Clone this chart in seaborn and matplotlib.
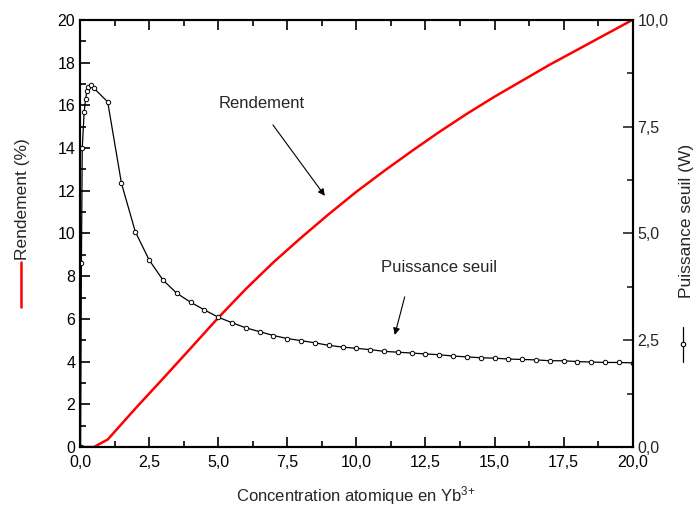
import numpy as np
import pandas as pd
import matplotlib
matplotlib.use("Agg")
import matplotlib.pyplot as plt
from matplotlib.ticker import MultipleLocator, FuncFormatter
from matplotlib.lines import Line2D
import seaborn as sns

# Rendement (%) vs concentration
conc_r = [0.0, 0.5, 1.0, 2.0, 3.0, 4.0, 5.0, 6.0, 7.0, 8.0, 9.0, 10.0,
          11.0, 12.0, 13.0, 14.0, 15.0, 16.0, 17.0, 18.0, 19.0, 20.0]
rendement = [0.0, 0.0, 0.35, 1.8, 3.2, 4.62, 6.05, 7.4, 8.65, 9.8, 10.9, 11.95,
             12.92, 13.85, 14.75, 15.6, 16.4, 17.15, 17.9, 18.6, 19.3, 20.0]

# Puissance seuil (W) vs concentration
conc_p = [0.02, 0.05, 0.08, 0.15, 0.2, 0.25, 0.3, 0.4, 0.5, 1.0, 1.5, 2.0,
          2.5, 3.0, 3.5, 4.0, 4.5, 5.0, 5.5, 6.0, 6.5, 7.0, 7.5, 8.0,
          8.5, 9.0, 9.5, 10.0, 10.5, 11.0, 11.5, 12.0, 12.5, 13.0, 13.5, 14.0,
          14.5, 15.0, 15.5, 16.0, 16.5, 17.0, 17.5, 18.0, 18.5, 19.0, 19.5, 20.0]
puissance = [0.0, 4.3, 7.0, 7.85, 8.15, 8.33, 8.43, 8.48, 8.4, 8.08, 6.17, 5.04,
             4.38, 3.91, 3.6, 3.39, 3.21, 3.04, 2.91, 2.79, 2.7, 2.61, 2.54, 2.49,
             2.44, 2.38, 2.34, 2.31, 2.28, 2.24, 2.22, 2.2, 2.18, 2.16, 2.13, 2.11,
             2.09, 2.08, 2.06, 2.05, 2.04, 2.02, 2.02, 2.0, 1.99, 1.98, 1.98, 1.97]

sns.set_style("ticks")
plt.rcParams['font.family'] = ['Liberation Sans', 'DejaVu Sans']
plt.rcParams['mathtext.fontset'] = 'custom'
plt.rcParams['mathtext.rm'] = 'Liberation Sans'
plt.rcParams['mathtext.it'] = 'Liberation Sans'

fig = plt.figure(figsize=(6.96, 5.08), dpi=100)
ax = fig.add_axes([0.115, 0.12, 0.794, 0.841])
ax2 = ax.twinx()

sns.lineplot(x=conc_r, y=rendement, ax=ax, color='red', linewidth=1.8)
sns.lineplot(x=conc_p, y=puissance, ax=ax2, color='black', linewidth=0.9,
             marker='o', markersize=3.2, markerfacecolor='white',
             markeredgecolor='black', markeredgewidth=0.7)

comma = FuncFormatter(lambda v, p: f"{v:.1f}".replace('.', ','))
ax.set_xlim(0, 20)
ax.set_ylim(0, 20)
ax2.set_ylim(0, 10)
ax.xaxis.set_major_locator(MultipleLocator(2.5))
ax.xaxis.set_minor_locator(MultipleLocator(1.25))
ax.xaxis.set_major_formatter(comma)
ax.yaxis.set_major_locator(MultipleLocator(2))
ax.yaxis.set_minor_locator(MultipleLocator(1))
ax2.yaxis.set_major_locator(MultipleLocator(2.5))
ax2.yaxis.set_minor_locator(MultipleLocator(1.25))
ax2.yaxis.set_major_formatter(comma)

ax.tick_params(axis='both', which='both', direction='in', top=True, right=False,
               labelsize=11.5, width=1.2, colors='black')
ax.tick_params(which='major', length=7)
ax.tick_params(which='minor', length=4)
ax2.tick_params(axis='y', which='both', direction='in', labelsize=11.5, width=1.2)
ax2.tick_params(which='major', length=7)
ax2.tick_params(which='minor', length=4)
ax.tick_params(axis='x', pad=6)

for a in (ax, ax2):
    for s in a.spines.values():
        s.set_linewidth(1.5)
        s.set_color('black')
    a.set_ylabel('')
    a.set_xlabel('')

fig.text(0.512, 0.025, 'Concentration atomique en Yb$^{3\\!+}$', fontsize=12,
         ha='center', va='center')

# axis titles with line keys
fig.text(0.033, 0.608, 'Rendement (%)', rotation=90, fontsize=12.5,
         ha='center', va='center')
fig.add_artist(Line2D([0.030, 0.030], [0.395, 0.484], color='red', lw=1.8,
                      transform=fig.transFigure))
fig.text(0.986, 0.565, 'Puissance seuil (W)', rotation=90, fontsize=12.5,
         ha='center', va='center')
fig.add_artist(Line2D([0.982, 0.982], [0.288, 0.357], color='black', lw=0.9,
                      transform=fig.transFigure))
fig.add_artist(Line2D([0.982], [0.3225], color='black', lw=0, marker='o',
                      markersize=3.2, markerfacecolor='white',
                      markeredgecolor='black', markeredgewidth=0.8,
                      transform=fig.transFigure))

# annotations
ax.text(6.58, 16.1, 'Rendement', fontsize=12, ha='center', va='center')
ax.annotate('', xy=(8.86, 11.76), xytext=(6.98, 15.08),
            arrowprops=dict(arrowstyle='-|>', color='black', lw=0.8,
                            shrinkA=0, shrinkB=0, mutation_scale=10))
ax.text(13.0, 8.4, 'Puissance seuil', fontsize=12, ha='center', va='center')
ax.annotate('', xy=(11.39, 5.25), xytext=(11.75, 7.03),
            arrowprops=dict(arrowstyle='-|>', color='black', lw=0.8,
                            shrinkA=0, shrinkB=0, mutation_scale=10))

fig.savefig('out.png', dpi=100)
